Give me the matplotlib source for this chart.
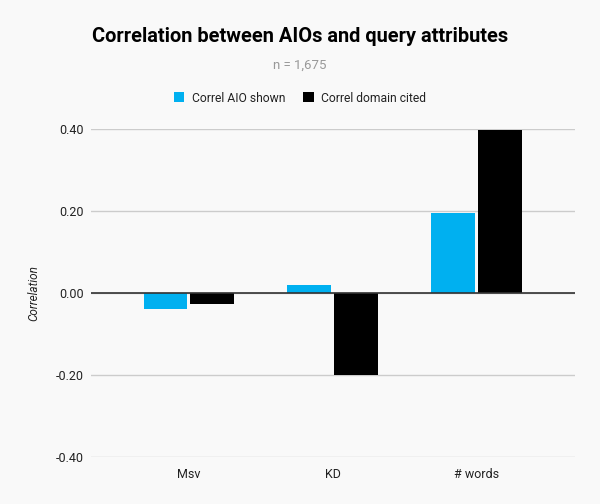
import matplotlib
matplotlib.use("Agg")
import matplotlib.pyplot as plt
import numpy as np

categories = ["Msv", "KD", "# words"]
series_names = ["Correl AIO shown", "Correl domain cited"]
aio_shown = [-0.038, 0.020, 0.195]
domain_cited = [-0.027, -0.200, 0.397]
yticks = [-0.40, -0.20, 0.00, 0.20, 0.40]

plt.rcParams['font.family'] = ['Roboto', 'DejaVu Sans']
bg = "#f9f9f9"
fig = plt.figure(figsize=(6.0, 5.04), dpi=100, facecolor=bg)
ax = fig.add_axes([0.1517, 0.0933, 0.8063, 0.6507], facecolor=bg)

x = np.arange(len(categories))
w = 0.305
ax.bar(x - 0.163, aio_shown, width=w, color="#00b0f0", label=series_names[0], zorder=3)
ax.bar(x + 0.163, domain_cited, width=w, color="#000000", label=series_names[1], zorder=3)

ax.set_xlim(-0.68, 2.68)
ax.set_ylim(-0.40, 0.40)
ax.set_yticks(yticks)
ax.set_yticklabels([f"{v:.2f}" for v in yticks])
ax.set_xticks(x)
ax.set_xticklabels(categories)
ax.grid(axis="y", color="#cccccc", linewidth=1, zorder=0)
ax.axhline(0, color="#333333", linewidth=1.2, zorder=4)
for s in ax.spines.values():
    s.set_visible(False)
ax.tick_params(axis="both", length=0, labelsize=9, colors="#222222")
ax.tick_params(axis="y", pad=5)
ax.tick_params(axis="x", pad=8)
ax.set_ylabel("Correlation", fontsize=8.5, style="italic", color="#222222", labelpad=11)

fig.text(0.5, 1 - 37/504, "Correlation between AIOs and query attributes", ha="center", va="center",
         fontsize=14.4, fontweight="bold", color="#000000")
fig.text(0.5, 1 - 65/504, "n = 1,675", ha="center", va="center", fontsize=9.5, color="#999999")
leg = fig.legend(loc="center", bbox_to_anchor=(0.5, 1 - 98/504), ncol=2, frameon=False,
                 fontsize=8.7, handlelength=0.9, handleheight=0.9, columnspacing=1.5, handletextpad=0.6)
for t in leg.get_texts():
    t.set_color("#222222")

fig.savefig("out.png", dpi=100, facecolor=bg)
